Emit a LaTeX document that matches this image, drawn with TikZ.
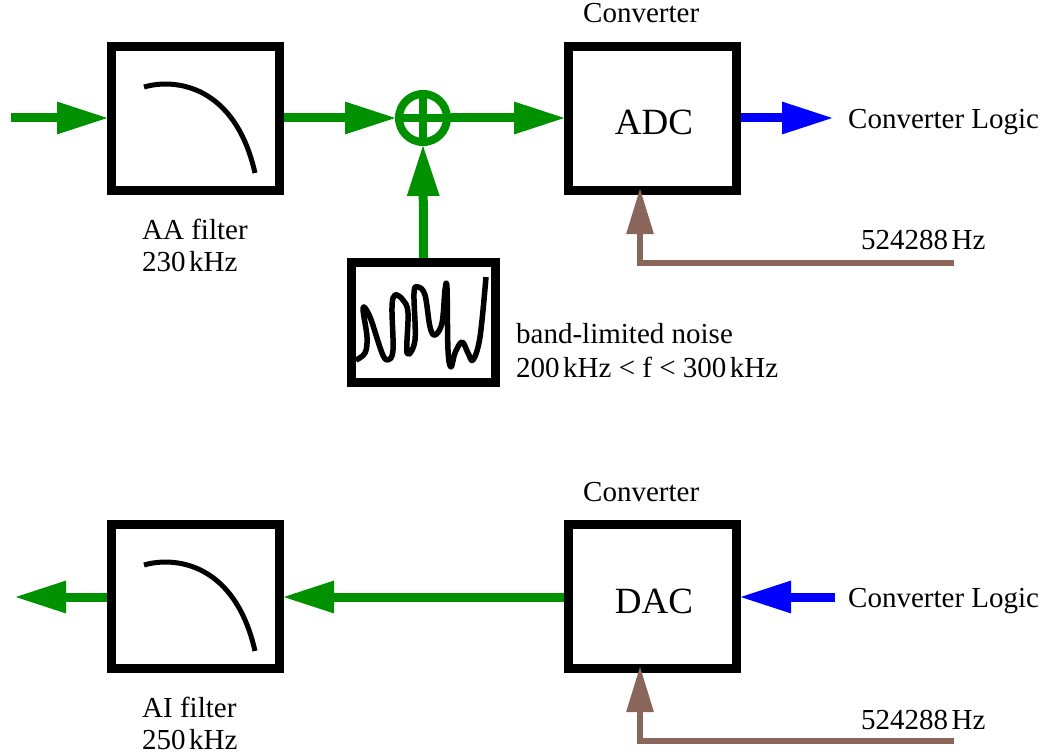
\documentclass[tikz,border=0pt]{standalone}
\usepackage{fontspec}
\setmainfont{Liberation Serif}
\usetikzlibrary{arrows.meta}
\definecolor{sgreen}{RGB}{0,145,0}
\definecolor{cbrown}{RGB}{138,101,90}
\newcommand{\unitgap}{\kern3.5pt}
\tikzset{
  block/.style={draw=black,line width=9pt,fill=white,minimum width=168pt,minimum height=144pt,inner sep=0pt},
  noiseblock/.style={block,minimum width=144pt,minimum height=120pt},
  sumring/.style={circle,draw=sgreen,line width=8pt,minimum size=48pt,inner sep=0pt},
  wire/.style={line width=9pt,shorten >=-2pt,-{Triangle[length=52pt,width=30pt]}},
  wiregreen/.style={wire,sgreen},
  wireblue/.style={wire,blue},
  wirebrown/.style={line width=6pt,cbrown,shorten >=-7pt,-{Triangle[length=46pt,width=26pt]}},
  trace/.style={line width=5pt,black},
  label/.style={anchor=base west,inner sep=0pt,font=\fontsize{29}{29}\selectfont},
  biglabel/.style={anchor=base,inner sep=0pt,font=\fontsize{37}{37}\selectfont}
}
\begin{document}
\begin{tikzpicture}[x=1pt,y=-1pt]
\useasboundingbox (0,0) rectangle (1043,754);
\node [block] (aa) at (195.5,118.5) {};
\node [block] (adc) at (652.5,118.5) {};
\node [noiseblock] (noise) at (423.5,322.5) {};
\node [block] (ai) at (195.5,596.5) {};
\node [block] (dac) at (652.5,596.5) {};
\node [sumring] (sum) at (423,118) {};
\draw [line width=8pt,sgreen] (sum.north) -- (sum.south);
\draw [line width=8pt,sgreen] (sum.west) -- (sum.east);
\coordinate (in) at (11,118);
\coordinate (logicout) at (832,118);
\coordinate (clkadc) at (954,263);
\coordinate (out) at (16,597);
\coordinate (logicin) at (835,597);
\coordinate (clkdac) at (954,741);
\draw [wiregreen] (in) -- (in -| aa.west);
\draw [wiregreen] (aa.east |- sum) -- (sum.west);
\draw [wiregreen] (sum.east) -- (sum -| adc.west);
\draw [wiregreen] (noise.north) -- (sum.south);
\draw [wireblue] (logicout -| adc.east) -- (logicout);
\draw [wirebrown] (clkadc) -- (clkadc -| 640,0) -- (640,0 |- adc.south);
\draw [wiregreen] (dac.west |- out) -- (ai.east |- out);
\draw [wiregreen] (ai.west |- out) -- (out);
\draw [wireblue] (logicin) -- (logicin -| dac.east);
\draw [wirebrown] (clkdac) -- (clkdac -| 640,0) -- (640,0 |- dac.south);
\draw [trace] (144,87) .. controls (175,78) and (235,85) .. (255,173);
\draw [trace] (144,565) .. controls (175,556) and (235,563) .. (255,651);
\draw [line width=5.5pt,black,line join=round] plot [smooth,tension=0.6] coordinates {
(356,360) (365,353) (367,337) (363,308) (370,317) (382,353) (388,360) (393,350) (392,307) (395,295)
(403,300) (408,313) (407,353) (415,340) (414,293) (418,287) (425,295) (430,327) (435,335) (442,323)
(445,290) (447,288) (448,350) (451,367) (455,353) (462,342) (468,353) (473,360) (480,337) (486,277)};
\node [label] (convup) at (583,23) {Converter};
\node [label] (logicup) at (848,129) {Converter Logic};
\node [label] (aaname) at (142,239) {AA filter};
\node [label] (aafreq) at (142,271) {230\unitgap kHz};
\node [label] (noisename) at (516,343) {band-limited noise};
\node [label] (noisefreq) at (516,377) {200\unitgap kHz < f < 300\unitgap kHz};
\node [label] (clkup) at (861,249) {524288\unitgap Hz};
\node [biglabel] (adcname) at (654,135) {ADC};
\node [label] (convdown) at (583,501) {Converter};
\node [label] (logicdown) at (848,607) {Converter Logic};
\node [label] (ainame) at (142,717) {AI filter};
\node [label] (aifreq) at (142,749) {250\unitgap kHz};
\node [label] (clkdown) at (861,729) {524288\unitgap Hz};
\node [biglabel] (dacname) at (654,613) {DAC};
\end{tikzpicture}
\end{document}
